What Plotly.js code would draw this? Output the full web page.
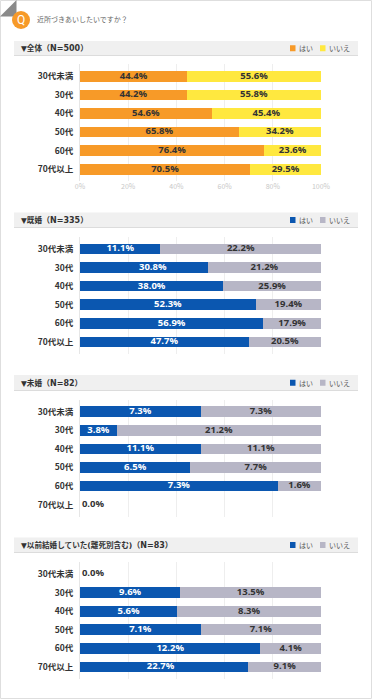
<!DOCTYPE html>
<html><head><meta charset="utf-8">
<script src="https://cdn.plot.ly/plotly-3.0.1.min.js"></script>
<style>html,body{margin:0;padding:0;background:#fff}#c{width:372px;height:700px}</style>
</head><body><div id="c"></div>
<script>
const question = "近所づきあいしたいですか？";
const categories = ["30代未満","30代","40代","50代","60代","70代以上"];
const tickVals = [0,20,40,60,80,100];
const tickLabels = ["0%","20%","40%","60%","80%","100%"];
const seriesNames = ["はい","いいえ"];

const panelNames = ["▼全体","▼既婚","▼未婚","▼以前結婚していた(離死別含む)"];
const panelCounts = ["（N=500）","（N=335）","（N=82）","（N=83）"];

// Printed labels
const allYes = [44.4,44.2,54.6,65.8,76.4,70.5];
const allNo = [55.6,55.8,45.4,34.2,23.6,29.5];
const marriedYes = [11.1,30.8,38.0,52.3,56.9,47.7];
const marriedNo = [22.2,21.2,25.9,19.4,17.9,20.5];
const singleYes = [7.3,3.8,11.1,6.5,7.3,0];
const singleNo = [7.3,21.2,11.1,7.7,1.6,0];
const formerYes = [0,9.6,5.6,7.1,12.2,22.7];
const formerNo = [0,13.5,8.3,7.1,4.1,9.1];
// Drawn lengths where the picture's bar differs from its printed label
const marriedYesDrawn = [11.1,23.9,38.0,52.3,56.9,47.7];
const formerYesDrawn = [0,9.6,5.6,7.1,12.2,21.1];

const orange="#F79A28", yellow="#FFE83F", blue="#0B57B0", gray="#B7B6C6";
const JP='"Noto Sans CJK JP","Noto Sans",sans-serif';
const MIX='"DejaVu Sans","Noto Sans CJK JP",sans-serif';
const NUM='"Open Sans","Noto Sans",sans-serif';
const W=372,H=700;
const px=x=>x/W, py=y=>1-y/H;

const panels=[
 {yes:allYes,no:allNo,drawn:allYes,nudge:[0,0,0,0,0,0],c1:orange,c2:yellow,t1:"#333",top:64.2,bot:181.4,hTop:41,hBot:55.5},
 {yes:marriedYes,no:marriedNo,drawn:marriedYesDrawn,nudge:[0,3.7,0,0,0,0],c1:blue,c2:gray,t1:"#fff",top:236.9,bot:354,hTop:212.5,hBot:227.5},
 {yes:singleYes,no:singleNo,drawn:singleYes,nudge:[0,0,0,0,0,0],c1:blue,c2:gray,t1:"#fff",top:399.6,bot:516.8,hTop:375,hBot:390.5},
 {yes:formerYes,no:formerNo,drawn:formerYesDrawn,nudge:[0,0,0,0,0,-1.5],c1:blue,c2:gray,t1:"#fff",top:561.9,bot:679,hTop:537.5,hBot:552.5}
];

const fmt=v=>v.toFixed(1)+"%";
const traces=[];
const shapes=[
 {type:"rect",xref:"paper",yref:"paper",x0:px(0.5),x1:px(371.5),y0:py(0.5),y1:py(698.5),line:{color:"#dedede",width:1},fillcolor:"rgba(0,0,0,0)",layer:"below"},
 {type:"path",xref:"paper",yref:"paper",path:`M ${px(0)} ${py(16.5)} L ${px(16.5)} ${py(0)} L ${px(16.5)} ${py(16.5)} Z`,fillcolor:"#8a8a8a",line:{width:0}},
 {type:"circle",xref:"paper",yref:"paper",x0:px(12),x1:px(30),y0:py(29),y1:py(11),fillcolor:"#F79A28",line:{width:0}}
];
const note=(x,y,text,font,xanchor)=>({xref:"paper",yref:"paper",x:px(x),y:py(y),xanchor:xanchor||"left",yanchor:"middle",text,showarrow:false,font});
const annotations=[
 note(21,20,"Q",{family:"Roboto,sans-serif",size:12,color:"#fff"},"center"),
 note(35,19.5,question,{family:JP,size:7,color:"#666"})
];
const layout={width:W,height:H,margin:{l:0,r:0,t:0,b:0},paper_bgcolor:"#fff",plot_bgcolor:"#fff",barmode:"stack",barnorm:"percent",bargap:0.425,showlegend:false,shapes,annotations};

panels.forEach((p,i)=>{
  const n=i?String(i+1):"";
  const xa="x"+n, ya="y"+n;
  const bar=(name,vals,color)=>({type:"bar",orientation:"h",name,x:vals,y:categories,xaxis:xa,yaxis:ya,marker:{color,line:{width:0}},hoverinfo:"skip"});
  traces.push(bar(seriesNames[0],p.drawn,p.c1));
  traces.push(bar(seriesNames[1],p.no,p.c2));
  const idx=categories.map((c,j)=>j).filter(j=>p.yes[j]+p.no[j]>0);
  const share=j=>100*p.drawn[j]/(p.drawn[j]+p.no[j]);
  const label=(xs,texts,ys,color,pos)=>({type:"scatter",mode:"text",x:xs,y:ys,text:texts,xaxis:xa,yaxis:ya,textposition:pos||"middle center",textfont:{family:NUM,size:9.5,color,weight:700},hoverinfo:"skip",cliponaxis:false});
  traces.push(label(idx.map(j=>share(j)/2+p.nudge[j]),idx.map(j=>fmt(p.yes[j])),idx.map(j=>categories[j]),p.t1));
  traces.push(label(idx.map(j=>share(j)+(100-share(j))/2),idx.map(j=>fmt(p.no[j])),idx.map(j=>categories[j]),"#333"));
  const empty=categories.map((c,j)=>j).filter(j=>p.yes[j]+p.no[j]===0);
  if(empty.length) traces.push(label(empty.map(()=>0.8),empty.map(()=>fmt(0)),empty.map(j=>categories[j]),"#333","middle right"));
  layout["xaxis"+n]={domain:[px(80),px(321)],range:[0,100],anchor:ya,tickmode:"array",tickvals:tickVals,ticktext:i===0?tickLabels:tickLabels.map(()=>""),
    showgrid:true,gridcolor:"#eeeeee",gridwidth:1,zeroline:false,showline:false,ticks:"",tickfont:{family:JP,size:7,color:"#c8c8c8"},automargin:false,fixedrange:true};
  layout["yaxis"+n]={domain:[py(p.bot),py(p.top)],range:[5.65,-0.65],type:"category",categoryorder:"array",categoryarray:categories,anchor:xa,
    showgrid:false,zeroline:false,showline:true,linecolor:"#e6e6e6",linewidth:1,ticks:"",ticklabelstandoff:4,tickfont:{family:JP,size:8.5,color:"#333",weight:700},automargin:false,fixedrange:true};
  shapes.push({type:"rect",xref:"paper",yref:"paper",x0:px(14),x1:px(358),y0:py(p.hBot),y1:py(p.hTop),fillcolor:"#f0f0f0",line:{width:0},layer:"below"});
  shapes.push({type:"line",xref:"paper",yref:"paper",x0:px(14),x1:px(358),y0:py(p.hBot),y1:py(p.hBot),line:{color:"#dcdcdc",width:1},layer:"below"});
  const mid=(p.hTop+p.hBot)/2;
  annotations.push(note(19,mid,`<span style="font-size:7.6px">${panelNames[i]}</span>${panelCounts[i]}`,{family:MIX,size:8,color:"#333",weight:700}));
  shapes.push({type:"rect",xref:"paper",yref:"paper",x0:px(290),x1:px(295.5),y0:py(mid+3),y1:py(mid-3),fillcolor:p.c1,line:{width:0}});
  shapes.push({type:"rect",xref:"paper",yref:"paper",x0:px(320),x1:px(325.5),y0:py(mid+3),y1:py(mid-3),fillcolor:p.c2,line:{width:0}});
  annotations.push(note(297,mid,seriesNames[0],{family:JP,size:7,color:"#555"}));
  annotations.push(note(327,mid,seriesNames[1],{family:JP,size:7,color:"#555"}));
});
Plotly.newPlot("c",traces,layout,{displayModeBar:false,staticPlot:true});
</script></body></html>
